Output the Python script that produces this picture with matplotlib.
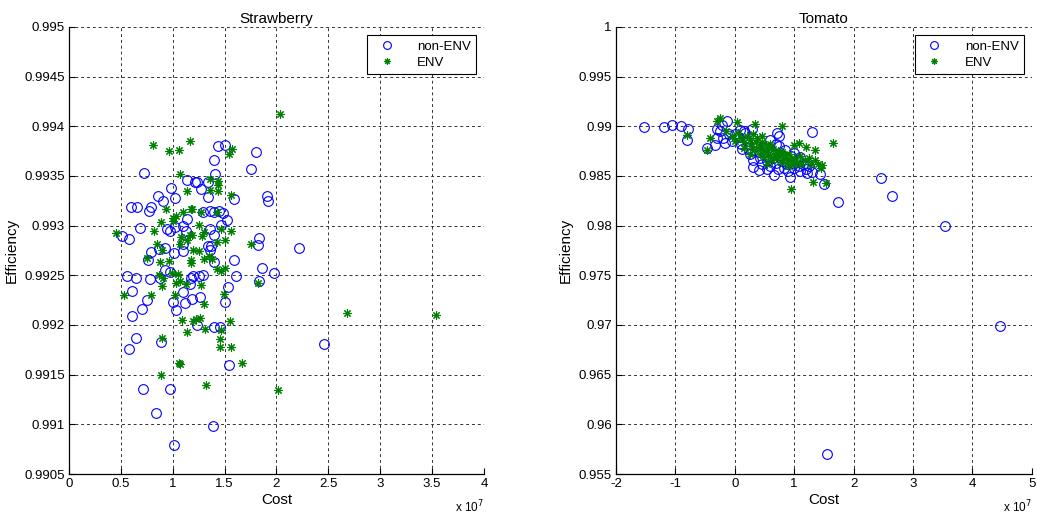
#!/usr/bin/env python3

"""
Efficiency vs. cost scatter for strawberry and tomato farms,
non-ENV vs ENV, drawn in a MATLAB-like style.
"""

import matplotlib
matplotlib.use("Agg")
import matplotlib.pyplot as plt
from matplotlib.ticker import FuncFormatter, MultipleLocator

# ---- strawberry data (cost in 1e7) ----
straw_non_x = [0.726, 0.98, 1.135, 1.21, 0.855, 0.91, 1.02, 0.594, 0.658, 0.787, 0.774, 1.135,
               0.68, 0.942, 0.974, 1.02, 1.10, 1.13, 0.513, 0.577, 1.10, 0.926, 0.787, 0.758,
               0.87, 1.01, 1.10, 0.926, 0.974, 0.561, 0.645, 0.78, 0.877, 1.18, 0.61, 0.748,
               0.706, 1.006, 1.03, 1.10, 1.12, 1.168, 0.61, 0.645, 0.58, 0.89, 0.71, 0.974,
               0.839, 1.013,
               1.433, 1.5, 1.40, 1.80, 1.752, 1.41, 1.23, 1.338, 1.277, 1.338, 1.586, 1.904,
               1.92, 1.293, 1.357, 1.395, 1.443, 1.484, 1.522, 1.468, 1.357, 1.395, 1.834,
               1.825, 1.34, 1.37, 1.355, 1.40, 1.586, 1.61, 1.857, 1.978, 1.83, 1.20, 1.25,
               1.29, 1.53, 1.506, 1.19, 1.26, 1.23, 1.40, 1.46, 1.545, 1.39, 2.213, 2.459]
straw_non_y = [0.99353, 0.99338, 0.99346, 0.99344, 0.99330, 0.99325, 0.99328, 0.99319, 0.99319,
               0.99319, 0.99315, 0.99307, 0.99298, 0.99297, 0.99295, 0.99299, 0.99300, 0.99295,
               0.99290, 0.99287, 0.99282, 0.99278, 0.99273, 0.99265, 0.99277, 0.99272, 0.99274,
               0.99255, 0.99253, 0.99249, 0.99247, 0.99246, 0.99247, 0.99247, 0.99234, 0.99225,
               0.99216, 0.99223, 0.99215, 0.99233, 0.99222, 0.99241, 0.99209, 0.99187, 0.99176,
               0.99183, 0.99136, 0.99136, 0.99111, 0.99079,
               0.99380, 0.99381, 0.99366, 0.99374, 0.99357, 0.99352, 0.99344, 0.99344, 0.99337,
               0.99329, 0.99327, 0.99330, 0.99325, 0.99314, 0.99315, 0.99314, 0.99315, 0.99313,
               0.99306, 0.99301, 0.99297, 0.99291, 0.99288, 0.99281, 0.99280, 0.99280, 0.99276,
               0.99263, 0.99265, 0.99249, 0.99257, 0.99252, 0.99244, 0.99249, 0.99249, 0.99250,
               0.99238, 0.99223, 0.99226, 0.99228, 0.99200, 0.99198, 0.99198, 0.99160, 0.99098,
               0.99278, 0.99181]

straw_env_x = [0.806, 0.961, 1.065, 1.168, 1.07, 1.135, 0.935, 1.097, 1.177, 1.0, 1.032, 1.006,
               0.887, 0.823, 0.452, 1.081, 1.168, 1.135, 1.071, 0.852, 0.897, 0.748, 0.877,
               0.968, 1.174, 0.99, 1.055, 0.871, 0.903, 1.071, 1.032, 1.129, 0.894, 0.532,
               0.79, 1.026, 1.087, 1.135, 1.2, 0.894, 1.065, 1.075, 0.887,
               1.57, 1.54, 1.44, 1.44, 1.44, 1.357, 1.357, 1.564, 1.188, 1.274, 1.43, 1.25,
               1.465, 1.564, 1.28, 1.30, 1.19, 1.50, 1.43, 1.75, 1.2, 1.25, 1.35, 1.38, 1.30,
               1.18, 1.43, 1.47, 1.50, 1.27, 1.825, 1.49, 1.30, 1.22, 1.26, 1.315, 1.465,
               1.554, 1.452, 1.452, 1.564, 1.672, 1.325, 2.016, 2.03, 2.68, 3.54]
straw_env_y = [0.99381, 0.99375, 0.99376, 0.99385, 0.99352, 0.99335, 0.99317, 0.99314, 0.99317,
               0.99308, 0.99310, 0.99305, 0.99304, 0.99295, 0.99293, 0.99289, 0.99291, 0.99286,
               0.99282, 0.99282, 0.99275, 0.99267, 0.99263, 0.99264, 0.99265, 0.99252, 0.99251,
               0.99250, 0.99247, 0.99244, 0.99242, 0.99241, 0.99239, 0.99230, 0.99230, 0.99230,
               0.99205, 0.99193, 0.99204, 0.99187, 0.99162, 0.99161, 0.99150,
               0.99377, 0.99372, 0.99345, 0.99341, 0.99335, 0.99347, 0.99336, 0.99331, 0.99317,
               0.99314, 0.99314, 0.99301, 0.99297, 0.99295, 0.99290, 0.99294, 0.99291, 0.99286,
               0.99284, 0.99282, 0.99276, 0.99274, 0.99269, 0.99266, 0.99266, 0.99262, 0.99256,
               0.99254, 0.99257, 0.99240, 0.99242, 0.99231, 0.99221, 0.99206, 0.99207, 0.99196,
               0.99195, 0.99204, 0.99186, 0.99178, 0.99178, 0.99162, 0.99140, 0.99135, 0.99412,
               0.99212, 0.99210]

# ---- tomato data (cost in 1e7) ----
tom_non_x = [-1.52, -1.20, -1.05, -0.91, -0.78, -0.80, -0.47, -0.34, -0.30, -0.30, -0.22, -0.13,
             -0.16, 0.0, 0.15, 0.29, 1.30, 0.71, 0.74, 0.31, 0.40, 0.66, 0.93, 1.22, 1.43, 1.51,
             1.73, 0.54, 2.46, 2.65, 3.54, 4.47, 1.56,
             -0.25, -0.20, -0.10, -0.05, 0.05, 0.10, 0.12, 0.20, 0.22, 0.25, 0.30, 0.35, 0.40,
             0.42, 0.45, 0.50, 0.52, 0.55, 0.60, 0.62, 0.65, 0.70, 0.72, 0.75, 0.78, 0.80, 0.82,
             0.85, 0.88, 0.90, 0.95, 0.98, 1.00, 1.05, 1.08, 1.10, 1.15, 1.20, 1.25, 1.30, 0.08,
             0.18, 0.60, 0.70, 1.00, 1.10]
tom_non_y = [0.98990, 0.98990, 0.99010, 0.99000, 0.98975, 0.98860, 0.98780, 0.98815, 0.98880,
             0.98970, 0.99010, 0.99055, 0.98833, 0.98926, 0.98950, 0.98970, 0.98943, 0.98933,
             0.98905, 0.98591, 0.98558, 0.98508, 0.98491, 0.98534, 0.98518, 0.98424, 0.98240,
             0.98575, 0.98481, 0.98300, 0.98000, 0.96990, 0.95703,
             0.98950, 0.98880, 0.98920, 0.98850, 0.98890, 0.98820, 0.98770, 0.98850, 0.98780,
             0.98720, 0.98660, 0.98800, 0.98740, 0.98680, 0.98620, 0.98780, 0.98700, 0.98650,
             0.98600, 0.98740, 0.98680, 0.98630, 0.98570, 0.98800, 0.98710, 0.98650, 0.98580,
             0.98760, 0.98620, 0.98550, 0.98700, 0.98630, 0.98580, 0.98660, 0.98600, 0.98550,
             0.98620, 0.98570, 0.98600, 0.98540, 0.98960, 0.98930, 0.98860, 0.98820, 0.98730,
             0.98690]

tom_env_x = [-0.80, -0.46, -0.42, -0.25, -0.30, 0.03, 0.34, 0.80, 1.66, 1.32, 1.53, 0.94, 1.47,
             1.35, 1.20, 1.08, 0.99,
             -0.15, -0.05, 0.0, 0.05, 0.10, 0.15, 0.20, 0.25, 0.28, 0.30, 0.32, 0.35, 0.38, 0.40,
             0.42, 0.45, 0.48, 0.50, 0.52, 0.55, 0.58, 0.60, 0.62, 0.65, 0.68, 0.70, 0.72, 0.75,
             0.78, 0.80, 0.82, 0.85, 0.88, 0.90, 0.92, 0.95, 0.98, 1.00, 1.05, 1.10, 1.12, 1.18,
             1.25, 1.28, 1.35, 1.40, 1.45, 0.15, 0.45, 0.60, 0.25, 0.55]
tom_env_y = [0.98909, 0.98765, 0.98883, 0.99083, 0.99050, 0.99043, 0.99026, 0.99000, 0.98833,
             0.98441, 0.98434, 0.98373, 0.98614, 0.98759, 0.98792, 0.98835, 0.98815,
             0.98950, 0.98900, 0.98850, 0.98930, 0.98880, 0.98840, 0.98900, 0.98860, 0.98800,
             0.98920, 0.98760, 0.98840, 0.98880, 0.98790, 0.98720, 0.98840, 0.98760, 0.98690,
             0.98810, 0.98740, 0.98780, 0.98700, 0.98660, 0.98770, 0.98720, 0.98680, 0.98750,
             0.98700, 0.98640, 0.98740, 0.98680, 0.98710, 0.98660, 0.98600, 0.98720, 0.98660,
             0.98620, 0.98680, 0.98640, 0.98700, 0.98620, 0.98660, 0.98680, 0.98620, 0.98660,
             0.98620, 0.98580, 0.98780, 0.98900, 0.98820, 0.98720, 0.98620]

plt.rcParams['font.family'] = ['Liberation Sans', 'DejaVu Sans']

BLUE = '#0000ff'
GREEN = '#008000'
STAR = (8, 2, 0)   # asterisk like the MATLAB '*'


def fmt_g(v, pos):
    return '%g' % round(v, 6)


def make_panel(ax, non_x, non_y, env_x, env_y, title, xlim, ylim, xstep, ystep):
    ax.plot(non_x, non_y, 'o', mfc='none', mec=BLUE, ms=7, mew=0.8, label='non-ENV', zorder=3)
    ax.plot(env_x, env_y, ls='none', marker=STAR, color=GREEN, mec=GREEN, ms=6, mew=0.8,
            label='ENV', zorder=4)

    ax.set_xlim(*xlim)
    ax.set_ylim(*ylim)
    ax.xaxis.set_major_locator(MultipleLocator(xstep))
    ax.yaxis.set_major_locator(MultipleLocator(ystep))
    ax.xaxis.set_major_formatter(FuncFormatter(fmt_g))
    ax.yaxis.set_major_formatter(FuncFormatter(fmt_g))

    # MATLAB-ish look: box off, dotted grid, inward ticks
    ax.spines['top'].set_visible(False)
    ax.spines['right'].set_visible(False)
    ax.spines['left'].set_linewidth(0.9)
    ax.spines['bottom'].set_linewidth(0.9)
    ax.grid(True, color='0.2', linestyle=(0, (3, 3)), linewidth=0.7)
    ax.set_axisbelow(True)
    ax.tick_params(direction='in', length=4, width=0.8, labelsize=9.5, pad=3)

    ax.set_title(title, fontsize=11, pad=3)
    ax.set_xlabel('Cost', fontsize=11, labelpad=2)
    ax.set_ylabel('Efficiency', fontsize=11, labelpad=4)
    ax.text(1.0, -0.056, r'x 10$^{7}$', transform=ax.transAxes, ha='right', va='top', fontsize=8.5)

    leg = ax.legend(loc='upper right', bbox_to_anchor=(0.981, 0.982), borderaxespad=0,
                    fontsize=9.5, fancybox=False, framealpha=1, edgecolor='black',
                    borderpad=0.4, handletextpad=1.2, handlelength=2.2, labelspacing=0.3,
                    markerscale=0.8)
    leg.get_frame().set_linewidth(0.8)


fig = plt.figure(figsize=(10.37, 5.15), dpi=100)
ax1 = fig.add_axes([0.0665, 0.0796, 0.4002, 0.868])
ax2 = fig.add_axes([0.594, 0.0796, 0.401, 0.868])

make_panel(ax1, straw_non_x, straw_non_y, straw_env_x, straw_env_y, 'Strawberry',
           (0, 4), (0.9905, 0.995), 0.5, 0.0005)
make_panel(ax2, tom_non_x, tom_non_y, tom_env_x, tom_env_y, 'Tomato',
           (-2, 5), (0.955, 1.0), 1, 0.005)

fig.savefig('out.png', dpi=100)
